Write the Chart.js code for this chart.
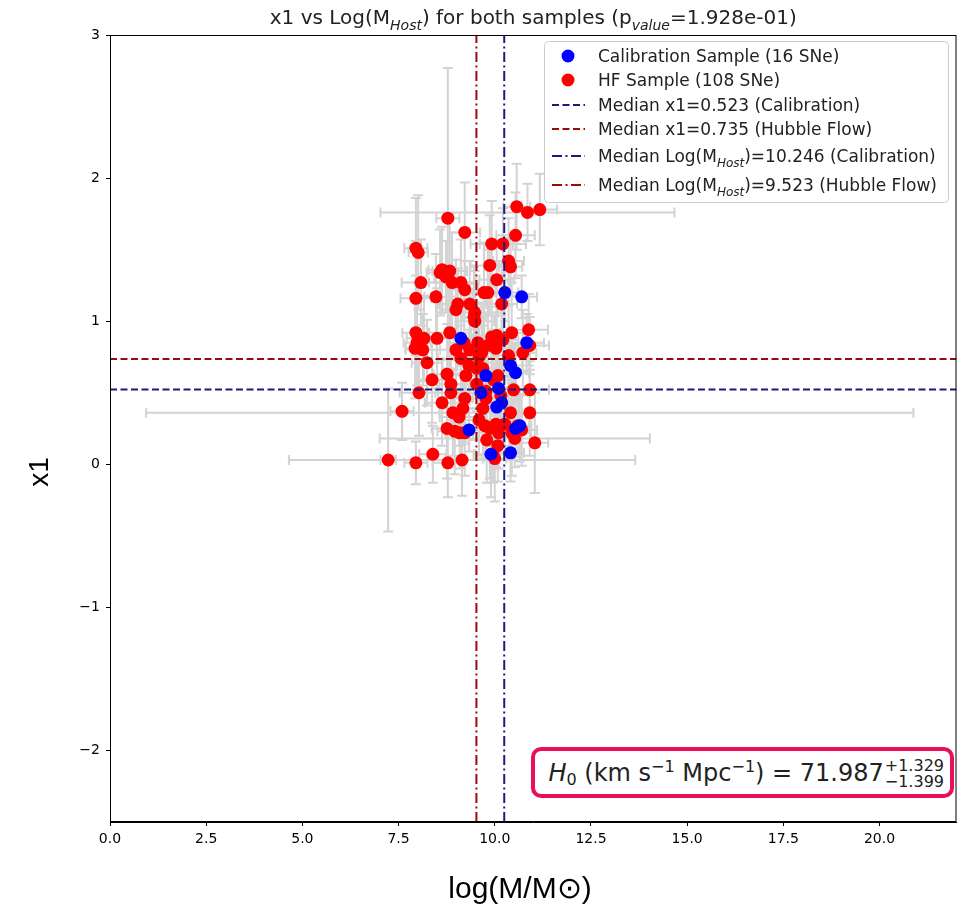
<!DOCTYPE html>
<html>
<head>
<meta charset="utf-8">
<script src="https://cdn.jsdelivr.net/npm/chart.js@4.4.1/dist/chart.umd.min.js"></script>
<style>
    body { margin: 0; background: #fff; }
    #wrap { position: relative; width: 963px; height: 910px; }
    #h0box {
        position: absolute; left: 531px; top: 747px; width: 409px; height: 43px;
        border: 4px solid #ea0f5c; border-radius: 10px; background: #fff;
        font-family: "DejaVu Sans", sans-serif; font-size: 24px; color: #222;
        display: flex; align-items: center; justify-content: flex-end; padding-right: 6px; box-sizing: content-box;
    }
    #h0box sup { font-size: 16px; vertical-align: 9px; }
    #h0box sub { font-size: 16px; vertical-align: -4px; }
    #h0box .pm { display: inline-flex; flex-direction: column; font-size: 16px; line-height: 16px; margin-left: 1px; margin-top: 2px; }
</style>
</head>
<body>
<div id="wrap">
    <canvas id="chart" width="963" height="910"></canvas>
    <div id="h0box"><span><i>H</i><sub>0</sub> (km s<sup>−1</sup> Mpc<sup>−1</sup>) = 71.987</span><span class="pm"><span>+1.329</span><span>−1.399</span></span></div>
</div>
<script>
// Calibration sample (16 SNe)
const calX = [10.26, 10.70, 9.12, 10.83, 10.41, 10.54, 9.77, 9.64, 10.10, 10.18, 10.05, 9.33, 10.54, 10.65, 9.90, 10.41];
const calY = [1.20, 1.17, 0.88, 0.85, 0.69, 0.64, 0.62, 0.50, 0.53, 0.43, 0.40, 0.24, 0.25, 0.27, 0.07, 0.08];
const calXErr = [0.35, 0.4, 0.3, 0.45, 0.3, 0.35, 0.4, 0.3, 0.45, 0.35, 0.3, 0.4, 0.35, 0.3, 0.45, 0.35];
const calYErr = [0.2, 0.15, 0.25, 0.2, 0.15, 0.2, 0.25, 0.15, 0.2, 0.25, 0.2, 0.15, 0.2, 0.25, 0.3, 0.2];

// Hubble flow sample (108 SNe)
const hfX = [11.17, 10.85, 10.57, 8.78, 9.22, 10.54, 7.95, 8.01, 9.92, 10.21,
    10.36, 10.41, 9.87, 8.63, 8.83, 8.73, 8.89, 9.12, 9.22, 8.08,
    10.05, 9.72, 9.82, 7.95, 8.47, 9.04, 8.99, 9.35, 9.48, 9.46,
    10.18, 10.88, 7.95, 8.16, 8.50, 8.83, 9.92, 10.05, 10.44, 7.98,
    8.13, 7.93, 8.99, 9.20, 9.56, 9.35, 9.66, 9.59, 9.82, 10.03,
    10.36, 10.73, 10.91, 8.24, 9.12, 9.33, 9.69, 8.76, 9.25, 8.37,
    8.86, 9.53, 9.97, 10.08, 8.03, 8.86, 9.77, 10.49, 10.91, 10.16,
    7.59, 8.63, 9.17, 9.69, 8.91, 9.07, 10.41, 10.91, 8.76, 8.96,
    9.09, 9.22, 9.74, 9.87, 10.03, 10.10, 10.44, 10.60, 10.70, 11.04,
    9.79, 10.08, 10.52, 7.23, 7.95, 8.39, 8.78, 9.15, 9.95, 10.00,
    9.59, 8.58, 9.48, 10.21, 9.53, 10.26, 9.77, 9.22];
const hfY = [1.78, 1.76, 1.80, 1.72, 1.62, 1.60, 1.51, 1.48, 1.54, 1.54,
    1.42, 1.38, 1.39, 1.36, 1.35, 1.31, 1.27, 1.27, 1.22, 1.27,
    1.29, 1.20, 1.20, 1.16, 1.17, 1.12, 1.08, 1.12, 1.06, 1.03,
    1.12, 0.94, 0.92, 0.88, 0.88, 0.92, 0.89, 0.90, 0.92, 0.85,
    0.80, 0.81, 0.80, 0.85, 0.85, 0.80, 0.78, 0.75, 0.83, 0.81,
    0.76, 0.78, 0.83, 0.71, 0.74, 0.69, 0.67, 0.63, 0.62, 0.59,
    0.56, 0.56, 0.59, 0.62, 0.50, 0.50, 0.51, 0.52, 0.52, 0.48,
    0.37, 0.43, 0.39, 0.39, 0.36, 0.33, 0.36, 0.36, 0.25, 0.23,
    0.22, 0.22, 0.27, 0.25, 0.28, 0.22, 0.22, 0.27, 0.24, 0.15,
    0.17, 0.13, 0.18, 0.03, 0.01, 0.07, 0.01, 0.03, 0.07, 0.04,
    0.31, 1.34, 1.00, 0.87, 0.67, 0.28, 0.46, 0.46];
const hfXErr = [0.45, 3.82, 0.35, 0.3, 0.4, 0.5, 0.3, 0.25, 0.55, 0.6,
    0.4, 0.3, 0.5, 0.35, 0.45, 0.3, 0.6, 0.4, 0.35, 0.5,
    0.45, 0.3, 0.55, 0.4, 0.3, 0.5, 0.35, 0.45, 0.6, 0.3,
    0.4, 0.5, 0.35, 0.45, 0.3, 0.55, 0.4, 0.5, 0.3, 0.35,
    0.45, 0.25, 0.5, 0.4, 0.3, 0.55, 0.35, 0.45, 0.4, 0.5,
    0.3, 0.35, 0.5, 0.4, 0.6, 0.3, 0.45, 0.35, 0.5, 0.4,
    0.3, 0.55, 0.45, 0.35, 0.5, 0.4, 0.3, 0.45, 0.5, 0.35,
    0.3, 0.45, 0.55, 0.4, 0.35, 0.5, 0.3, 9.97, 0.4, 0.45,
    0.35, 0.5, 0.3, 0.4, 0.45, 0.35, 0.5, 0.3, 0.4, 0.35,
    0.45, 0.3, 3.51, 0.2, 0.3, 0.35, 0.4, 4.5, 0.45, 0.3,
    0.4, 0.35, 0.5, 0.4, 0.3, 0.45, 0.35, 0.5];
const hfYErr = [0.25, 0.2, 0.3, 1.05, 0.35, 0.3, 0.35, 0.4, 0.3, 0.25,
    0.3, 0.2, 0.35, 0.3, 0.4, 0.25, 0.35, 0.3, 0.2, 0.3,
    0.25, 0.35, 0.3, 0.4, 0.3, 0.25, 0.35, 0.3, 0.2, 0.35,
    0.3, 0.25, 0.4, 0.3, 0.35, 0.25, 0.3, 0.2, 0.35, 0.3,
    0.25, 0.35, 0.3, 0.4, 0.25, 0.3, 0.35, 0.2, 0.3, 0.25,
    0.35, 0.3, 0.2, 0.3, 0.35, 0.25, 0.3, 0.35, 0.2, 0.3,
    0.25, 0.3, 0.35, 0.2, 0.3, 0.25, 0.35, 0.3, 0.2, 0.25,
    0.2, 0.3, 0.25, 0.35, 0.3, 0.2, 0.25, 0.3, 0.35, 0.3,
    0.25, 0.3, 0.2, 0.35, 0.3, 0.25, 0.3, 0.2, 0.25, 0.35,
    0.3, 0.25, 0.2, 0.5, 0.15, 0.2, 0.24, 0.25, 0.2, 0.3,
    0.25, 0.3, 0.35, 0.25, 0.3, 0.2, 0.25, 0.3];

// Medians
const medX1Cal = 0.523;
const medX1HF = 0.735;
const medMassCal = 10.246;
const medMassHF = 9.523;

const xTickValues = [0, 2.5, 5, 7.5, 10, 12.5, 15, 17.5, 20];
const yTickValues = [-2, -1, 0, 1, 2, 3];
const xRange = [0, 22];
const yRange = [-2.5, 3];

const BLUE_LINE = '#1b1b7f';
const RED_LINE = '#990a0a';
const FONT = '"DejaVu Sans", sans-serif';

function toPoints(xs, ys) {
    return xs.map((x, i) => ({ x: x, y: ys[i] }));
}

// Draw grey error bars under the points
const errorBars = {
    id: 'errorBars',
    beforeDatasetsDraw(chart) {
        const ctx = chart.ctx;
        const xs = chart.scales.x, ys = chart.scales.y;
        const area = chart.chartArea;
        ctx.save();
        ctx.beginPath();
        ctx.rect(area.left, area.top, area.right - area.left, area.bottom - area.top);
        ctx.clip();
        ctx.strokeStyle = '#d3d3d3';
        ctx.lineWidth = 2;
        const cap = 5;
        const sets = [[hfX, hfY, hfXErr, hfYErr], [calX, calY, calXErr, calYErr]];
        sets.forEach(([X, Y, XE, YE]) => {
            X.forEach((x, i) => {
                const px = xs.getPixelForValue(x), py = ys.getPixelForValue(Y[i]);
                const x0 = xs.getPixelForValue(x - XE[i]), x1 = xs.getPixelForValue(x + XE[i]);
                const y0 = ys.getPixelForValue(Y[i] - YE[i]), y1 = ys.getPixelForValue(Y[i] + YE[i]);
                ctx.beginPath();
                ctx.moveTo(x0, py); ctx.lineTo(x1, py);
                ctx.moveTo(px, y0); ctx.lineTo(px, y1);
                ctx.moveTo(x0, py - cap); ctx.lineTo(x0, py + cap);
                ctx.moveTo(x1, py - cap); ctx.lineTo(x1, py + cap);
                ctx.moveTo(px - cap, y0); ctx.lineTo(px + cap, y0);
                ctx.moveTo(px - cap, y1); ctx.lineTo(px + cap, y1);
                ctx.stroke();
            });
        });
        ctx.restore();
    }
};

// Text with italic subscripts
function drawRich(ctx, parts, x, y, size, align) {
    const widths = parts.map(p => {
        ctx.font = (p.sub ? 'italic ' + Math.round(size * 0.72) : size) + 'px ' + FONT;
        return ctx.measureText(p.t).width;
    });
    const total = widths.reduce((a, b) => a + b, 0);
    let cx = align === 'center' ? x - total / 2 : x;
    parts.forEach((p, i) => {
        ctx.font = (p.sub ? 'italic ' + Math.round(size * 0.72) : size) + 'px ' + FONT;
        ctx.textAlign = 'left';
        ctx.textBaseline = 'alphabetic';
        ctx.fillText(p.t, cx, p.sub ? y + size * 0.28 : y);
        cx += widths[i];
    });
}

const decorations = {
    id: 'decorations',
    afterDraw(chart) {
        const ctx = chart.ctx;
        const a = chart.chartArea;
        ctx.save();
        // frame
        ctx.strokeStyle = '#000';
        ctx.lineWidth = 1;
        ctx.strokeRect(a.left + 0.5, a.top + 0.5, a.right - a.left - 1, a.bottom - a.top - 1);

        // title
        ctx.fillStyle = '#222';
        drawRich(ctx, [
            { t: 'x1 vs Log(M' }, { t: 'Host', sub: true }, { t: ') for both samples (p' },
            { t: 'value', sub: true }, { t: '=1.928e-01)' }
        ], (a.left + a.right) / 2, 24, 20, 'center');

        // axis titles
        ctx.fillStyle = '#000';
        ctx.font = '30px "Liberation Sans", Arial, sans-serif';
        ctx.textAlign = 'center';
        ctx.textBaseline = 'middle';
        ctx.fillText('log(M/M\u2299)', 520, 890);
        ctx.save();
        ctx.translate(40, 472);
        ctx.rotate(-Math.PI / 2);
        ctx.font = '28px "Liberation Sans", Arial, sans-serif';
        ctx.fillText('x1', 0, 0);
        ctx.restore();

        // legend
        const lx = 544, ly = 41, lw = 404, lh = 161;
        ctx.fillStyle = 'rgba(255,255,255,0.85)';
        ctx.strokeStyle = '#cccccc';
        ctx.lineWidth = 1;
        ctx.beginPath();
        ctx.roundRect(lx + 0.5, ly + 0.5, lw, lh, 4);
        ctx.fill();
        ctx.stroke();

        const rows = [
            { kind: 'dot', color: '#0000ff', y: 56, parts: [{ t: 'Calibration Sample (16 SNe)' }] },
            { kind: 'dot', color: '#ff0000', y: 80, parts: [{ t: 'HF Sample (108 SNe)' }] },
            { kind: 'dash', color: BLUE_LINE, y: 105, parts: [{ t: 'Median x1=0.523 (Calibration)' }] },
            { kind: 'dash', color: RED_LINE, y: 129, parts: [{ t: 'Median x1=0.735 (Hubble Flow)' }] },
            { kind: 'dashdot', color: BLUE_LINE, y: 156, parts: [{ t: 'Median Log(M' }, { t: 'Host', sub: true }, { t: ')=10.246 (Calibration)' }] },
            { kind: 'dashdot', color: RED_LINE, y: 185, parts: [{ t: 'Median Log(M' }, { t: 'Host', sub: true }, { t: ')=9.523 (Hubble Flow)' }] }
        ];
        rows.forEach(r => {
            if (r.kind === 'dot') {
                ctx.fillStyle = r.color;
                ctx.beginPath();
                ctx.arc(568, r.y, 6.5, 0, Math.PI * 2);
                ctx.fill();
            } else {
                ctx.strokeStyle = r.color;
                ctx.lineWidth = 2;
                ctx.setLineDash(r.kind === 'dash' ? [7, 3.5] : [10, 3.5, 2, 3.5]);
                ctx.beginPath();
                ctx.moveTo(552, r.y);
                ctx.lineTo(585, r.y);
                ctx.stroke();
                ctx.setLineDash([]);
            }
            ctx.fillStyle = '#222';
            drawRich(ctx, r.parts, 598, r.y + 6, 17, 'left');
        });
        ctx.restore();
    }
};

const tickFont = { family: FONT, size: 14 };

new Chart(document.getElementById('chart'), {
    type: 'scatter',
    data: {
        datasets: [
            {
                label: 'Median Log(MHost)=10.246 (Calibration)', type: 'line', order: 0,
                data: [{ x: medMassCal, y: yRange[0] }, { x: medMassCal, y: yRange[1] }],
                borderColor: BLUE_LINE, borderWidth: 2, borderDash: [10, 3.5, 2, 3.5], pointRadius: 0
            },
            {
                label: 'Median Log(MHost)=9.523 (Hubble Flow)', type: 'line', order: 0,
                data: [{ x: medMassHF, y: yRange[0] }, { x: medMassHF, y: yRange[1] }],
                borderColor: RED_LINE, borderWidth: 2, borderDash: [10, 3.5, 2, 3.5], pointRadius: 0
            },
            {
                label: 'Median x1=0.523 (Calibration)', type: 'line', order: 0,
                data: [{ x: xRange[0], y: medX1Cal }, { x: xRange[1], y: medX1Cal }],
                borderColor: BLUE_LINE, borderWidth: 2, borderDash: [7, 3.5], pointRadius: 0
            },
            {
                label: 'Median x1=0.735 (Hubble Flow)', type: 'line', order: 0,
                data: [{ x: xRange[0], y: medX1HF }, { x: xRange[1], y: medX1HF }],
                borderColor: RED_LINE, borderWidth: 2, borderDash: [7, 3.5], pointRadius: 0
            },
            {
                label: 'Calibration Sample (16 SNe)', order: 1,
                data: toPoints(calX, calY),
                backgroundColor: '#0000ff', borderWidth: 0, pointRadius: 6.5
            },
            {
                label: 'HF Sample (108 SNe)', order: 2,
                data: toPoints(hfX, hfY),
                backgroundColor: '#ff0000', borderWidth: 0, pointRadius: 6.5
            }
        ]
    },
    options: {
        responsive: false,
        animation: false,
        layout: { padding: { top: 35, right: 5, left: 0, bottom: 0 } },
        plugins: {
            legend: { display: false },
            tooltip: { enabled: false },
            title: { display: false }
        },
        scales: {
            x: {
                type: 'linear', min: xRange[0], max: xRange[1],
                afterBuildTicks: s => { s.ticks = xTickValues.map(v => ({ value: v })); },
                afterFit: s => { s.height = 88; },
                ticks: { font: tickFont, color: '#000', padding: 5, maxRotation: 0, callback: v => v.toFixed(1) },
                grid: { display: true, drawOnChartArea: false, drawTicks: true, tickLength: 4, color: '#000' },
                border: { display: true, color: '#000' }
            },
            y: {
                type: 'linear', min: yRange[0], max: yRange[1],
                afterBuildTicks: s => { s.ticks = yTickValues.map(v => ({ value: v })); },
                afterFit: s => { s.width = 110; },
                ticks: { font: tickFont, color: '#000', padding: 6, callback: v => String(v).replace('-', '\u2212') },
                grid: { display: true, drawOnChartArea: false, drawTicks: true, tickLength: 4, color: '#000' },
                border: { display: true, color: '#000' }
            }
        }
    },
    plugins: [errorBars, decorations]
});
</script>
</body>
</html>
